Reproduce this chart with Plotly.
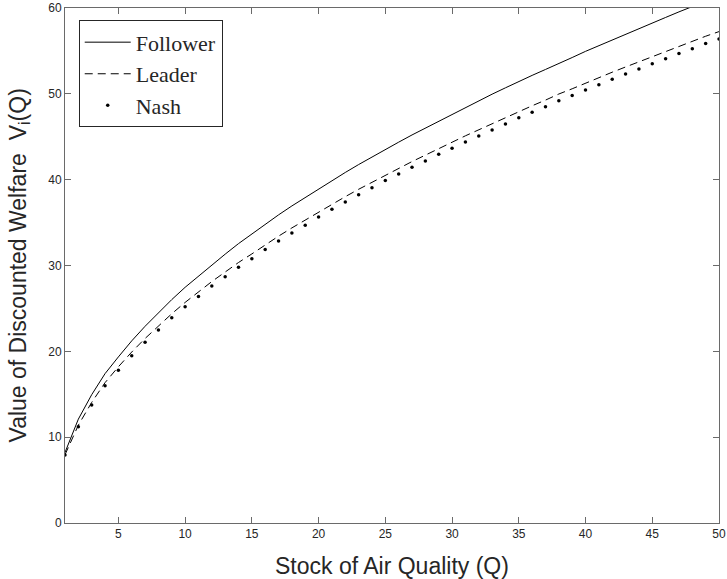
import plotly.graph_objects as go

Q = list(range(1, 51))

nash = [7.92, 11.2, 13.75, 16.0, 17.8, 19.5, 21.05, 22.5, 23.9, 25.2,
        26.4, 27.6, 28.7, 29.8, 30.8, 31.85, 32.85, 33.8, 34.7, 35.65,
        36.55, 37.4, 38.25, 39.07, 39.9, 40.66, 41.44, 42.18, 42.96, 43.66,
        44.4, 45.1, 45.8, 46.5, 47.2, 47.85, 48.5, 49.2, 49.8, 50.45,
        51.07, 51.7, 52.3, 52.9, 53.5, 54.1, 54.7, 55.26, 55.85, 56.4]

leader = [7.95, 11.4, 14.05, 16.35, 18.2, 19.92, 21.5, 22.95, 24.38, 25.7,
          26.92, 28.13, 29.24, 30.35, 31.35, 32.41, 33.42, 34.38, 35.29, 36.25,
          37.16, 38.02, 38.88, 39.71, 40.55, 41.32, 42.11, 42.86, 43.65, 44.36,
          45.11, 45.82, 46.53, 47.24, 47.95, 48.61, 49.27, 49.98, 50.59, 51.25,
          51.88, 52.52, 53.13, 53.74, 54.35, 54.96, 55.56, 56.13, 56.71, 57.25]

follower = [8.22, 12.1, 14.95, 17.4, 19.35, 21.22, 22.92, 24.5, 26.03, 27.46,
            28.78, 30.1, 31.32, 32.55, 33.67, 34.81, 35.9, 36.94, 37.92, 38.95,
            39.92, 40.84, 41.76, 42.65, 43.55, 44.37, 45.21, 46.01, 46.85, 47.61,
            48.42, 49.2, 49.96, 50.7, 51.45, 52.15, 52.84, 53.58, 54.23, 54.95,
            55.62, 56.3, 56.95, 57.6, 58.25, 58.9, 59.55, 60.16, 60.8, 61.4]

x_ticks = [5, 10, 15, 20, 25, 30, 35, 40, 45, 50]
y_ticks = [0, 10, 20, 30, 40, 50, 60]

x_title = "Stock of Air Quality (Q)"
y_title = "Value of Discounted Welfare \u00a0V<sub>i</sub>(Q)"

fig = go.Figure()
fig.add_trace(go.Scatter(x=Q, y=follower, mode="lines", name="Follower",
                         line=dict(color="black", width=1)))
fig.add_trace(go.Scatter(x=Q, y=leader, mode="lines", name="Leader",
                         line=dict(color="black", width=1, dash="8px,5px")))
fig.add_trace(go.Scatter(x=Q, y=nash, mode="markers", name="Nash",
                         marker=dict(color="black", size=3.5)))

axis_common = dict(
    showline=True, linecolor="#6a6a6a", linewidth=1, mirror="ticks",
    ticks="inside", ticklen=6, tickcolor="#6a6a6a", tickwidth=1,
    showgrid=False, zeroline=False, automargin=False,
    ticklabeloverflow="allow",
    tickfont=dict(family="Liberation Sans, Arial", size=12, color="#262626"),
)

title_font = dict(family="Liberation Sans, Arial", size=23, color="#262626")

fig.update_layout(
    width=727, height=579,
    margin=dict(l=65, r=8, t=8, b=56),
    paper_bgcolor="white", plot_bgcolor="white",
    showlegend=True,
    legend=dict(x=0.021, y=0.976, xanchor="left", yanchor="top",
                bgcolor="white", bordercolor="#262626", borderwidth=1,
                font=dict(family="Liberation Serif, Times New Roman", size=22, color="#262626"),
                tracegroupgap=0, itemwidth=46),
    xaxis=dict(range=[1, 50], tickvals=x_ticks, **axis_common),
    yaxis=dict(range=[0, 60], tickvals=y_ticks, **axis_common),
    annotations=[
        dict(text=x_title, xref="paper", yref="paper", x=0.5, y=0,
             xanchor="center", yanchor="middle", yshift=-43, showarrow=False,
             font=title_font),
        dict(text=y_title, xref="paper", yref="paper", x=0, y=0.5,
             xanchor="center", yanchor="middle", xshift=-46, textangle=-90,
             showarrow=False, font=title_font),
    ],
)

fig.write_html(
    "out.html",
    config={"displayModeBar": False},
    post_script="document.body.style.margin='0';document.body.style.padding='0';",
)
